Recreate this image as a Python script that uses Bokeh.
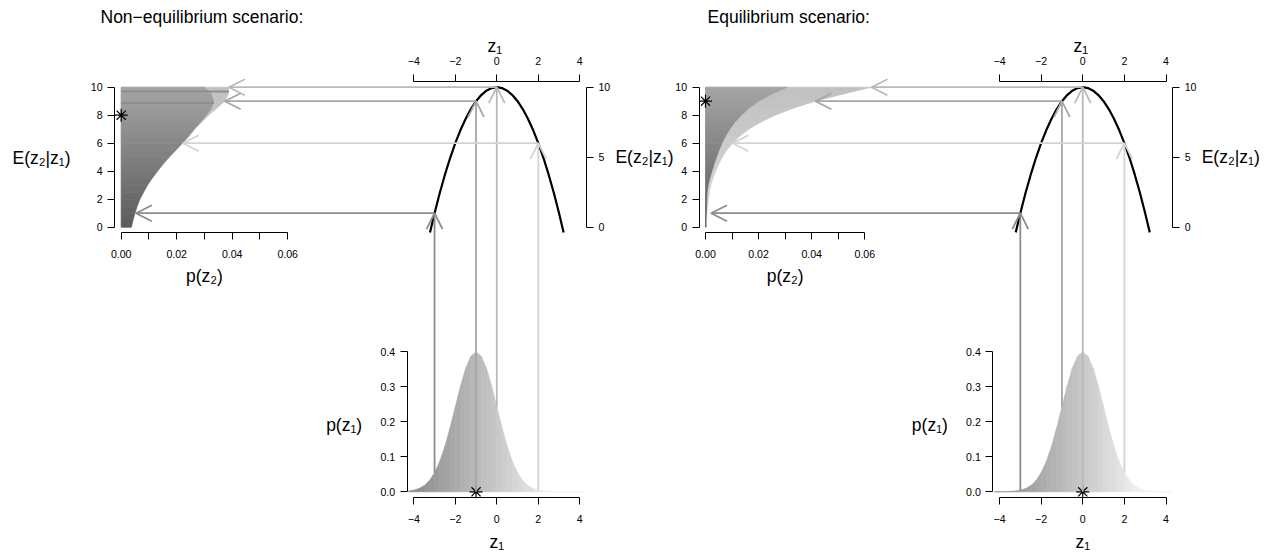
from bokeh.plotting import figure
from bokeh.models import (Range1d, LinearAxis, FixedTicker, CustomJSTickFormatter,
                          Arrow, OpenHead, Label)
from bokeh.embed import file_html
from bokeh.resources import INLINE

# ---------------- data ----------------
arrow_z1 = [-3.0, -1.0, 0.0, 2.0]
arrow_E = [1.0, 9.0, 10.0, 6.0]
arrow_colors = ["#8c8c8c", "#a6a6a6", "#b9b9b9", "#d3d3d3"]

curve_z1 = [-3.22, -3.0, -2.75, -2.5, -2.25, -2.0, -1.75, -1.5, -1.25, -1.0, -0.75, -0.5, -0.25, 0.0,
            0.25, 0.5, 0.75, 1.0, 1.25, 1.5, 1.75, 2.0, 2.25, 2.5, 2.75, 3.0, 3.22]
curve_E = [-0.37, 1.0, 2.44, 3.75, 4.94, 6.0, 6.94, 7.75, 8.44, 9.0, 9.44, 9.75, 9.94, 10.0,
           9.94, 9.75, 9.44, 9.0, 8.44, 7.75, 6.94, 6.0, 4.94, 3.75, 2.44, 1.0, -0.37]

dens_z1 = [-4.25, -4.0, -3.75, -3.5, -3.25, -3.0, -2.75, -2.5, -2.25, -2.0, -1.75, -1.5, -1.25,
           -1.0, -0.75, -0.5, -0.25, 0.0, 0.25, 0.5, 0.75, 1.0, 1.25, 1.5, 1.75, 2.0, 2.25, 2.5,
           2.75, 3.0, 3.25, 3.5, 3.75, 4.0, 4.25]
neq_pz1 = [0.0020, 0.0044, 0.0091, 0.0175, 0.0317, 0.0540, 0.0863, 0.1295, 0.1826, 0.2420,
           0.3011, 0.3521, 0.3867, 0.3989, 0.3867, 0.3521, 0.3011, 0.2420, 0.1826, 0.1295,
           0.0863, 0.0540, 0.0317, 0.0175, 0.0091, 0.0044, 0.0020, 0.0009, 0.0004, 0.0001,
           0.0, 0.0, 0.0, 0.0, 0.0]
eq_pz1 = [0.0, 0.0001, 0.0004, 0.0009, 0.0020, 0.0044, 0.0091, 0.0175, 0.0317, 0.0540,
          0.0863, 0.1295, 0.1826, 0.2420, 0.3011, 0.3521, 0.3867, 0.3989, 0.3867, 0.3521,
          0.3011, 0.2420, 0.1826, 0.1295, 0.0863, 0.0540, 0.0317, 0.0175, 0.0091, 0.0044,
          0.0020, 0.0009, 0.0004, 0.0001, 0.0]

E_levels = [0, 0.5, 1, 1.5, 2, 2.5, 3, 3.5, 4, 4.5, 5, 5.5, 6, 6.5, 7, 7.5, 8, 8.5, 9, 9.5, 10]
neq_pz2_dark = [0.0036, 0.0042, 0.0049, 0.0057, 0.0067, 0.0080, 0.0094, 0.0111, 0.0130, 0.0150,
                0.0172, 0.0196, 0.0220, 0.0242, 0.0262, 0.0285, 0.0307, 0.0325, 0.0333, 0.0325,
                0.0300]
neq_pz2_light = [0.0038, 0.0044, 0.0051, 0.0059, 0.0069, 0.0082, 0.0096, 0.0113, 0.0132, 0.0152,
                 0.0174, 0.0198, 0.0222, 0.0245, 0.0266, 0.0290, 0.0315, 0.0345, 0.0373, 0.0386,
                 0.0388]
eq_pz2_dark = [0.0002, 0.0002, 0.0003, 0.0004, 0.0005, 0.0006, 0.0010, 0.0016, 0.0024, 0.0032,
               0.0041, 0.0051, 0.0062, 0.0075, 0.0091, 0.0110, 0.0135, 0.0163, 0.0200, 0.0248,
               0.0308]
eq_pz2_light = [0.0003, 0.0004, 0.0005, 0.0008, 0.0011, 0.0015, 0.0020, 0.0028, 0.0038, 0.0050,
                0.0063, 0.0080, 0.0102, 0.0128, 0.0163, 0.0208, 0.0262, 0.0330, 0.0414, 0.0515,
                0.0625]

neq_arrow_pz1 = [0.054, 0.0, 0.242, 0.0044]
eq_arrow_pz1 = [0.0044, 0.242, 0.0, 0.054]
neq_arrow_tip = [0.0053, 0.0373, 0.0388, 0.0222]
eq_arrow_tip = [0.0021, 0.0414, 0.0625, 0.0102]

neq_mean_z1, neq_mean_E = -1.0, 8.0
eq_mean_z1, eq_mean_E = 0.0, 9.0

neq_band_E = [9.7, 8.88]
neq_band_p = [0.0388, 0.0334]

E_ticks = [0, 2, 4, 6, 8, 10]
E_ticks_right = [0, 5, 10]
p2_ticks = [0.0, 0.01, 0.02, 0.03, 0.04, 0.05, 0.06]
z1_ticks = [-4, -2, 0, 2, 4]
p1_ticks = [0.0, 0.1, 0.2, 0.3, 0.4]

# ---------------- layout (picture pixels) ----------------
W, H = 1260, 552
OX, OY = 0, 0
Y_E = (0.0, 226.7, 10.0, 86.7)
Y_P1 = (0.0, 491.3, 0.4, 351.0)
HALVES = {
    "neq": dict(p2=(0.0, 120.7, 0.06, 287.2), z1=(-4.0, 413.3, 4.0, 579.3)),
    "eq": dict(p2=(0.0, 705.0, 0.06, 864.3), z1=(-4.0, 999.0, 4.0, 1165.5)),
}
FONT = "Liberation Sans"


def to_px(v, a):
    v0, P0, v1, P1 = a
    return P0 + (v - v0) * (P1 - P0) / (v1 - v0)


def to_val(P, a):
    v0, P0, v1, P1 = a
    return v0 + (P - P0) * (v1 - v0) / (P1 - P0)


def xr(a):
    return Range1d(start=to_val(OX, a), end=to_val(OX + W, a))


def yr(a):
    return Range1d(start=to_val(OY + H, a), end=to_val(OY, a))


def grey(g):
    g = int(round(max(0, min(255, g))))
    return "#%02x%02x%02x" % (g, g, g)


p = figure(width=W, height=H, output_backend="svg", toolbar_location=None,
           x_axis_type=None, y_axis_type=None,
           x_range=Range1d(0, 1), y_range=Range1d(0, 1), min_border=0)
p.outline_line_color = None
p.background_fill_color = "white"
p.border_fill_color = "white"
p.extra_y_ranges = {"E": yr(Y_E), "p1": yr(Y_P1)}
p.extra_x_ranges = {
    "p2_neq": xr(HALVES["neq"]["p2"]), "z1_neq": xr(HALVES["neq"]["z1"]),
    "p2_eq": xr(HALVES["eq"]["p2"]), "z1_eq": xr(HALVES["eq"]["z1"]),
}

FMT_INT = "return tick.toFixed(0);"
FMT_P2 = "var k = Math.round(tick*100); return (k % 2 == 0) ? tick.toFixed(2) : '';"
FMT_Z = "return tick < 0 ? '\u2212' + Math.abs(tick).toFixed(0) : tick.toFixed(0);"
FMT_P1 = "return tick.toFixed(1);"


def add_axis(side, xname, yname, loc, bounds, ticks, code, standoff):
    ax = LinearAxis(x_range_name=xname, y_range_name=yname, fixed_location=loc, bounds=bounds,
                    ticker=FixedTicker(ticks=ticks, minor_ticks=[]),
                    formatter=CustomJSTickFormatter(code=code))
    ax.axis_line_color = "black"
    ax.axis_line_width = 1
    ax.major_tick_line_color = "black"
    ax.major_tick_line_width = 1
    ax.major_tick_in = 0
    ax.major_tick_out = 7
    ax.minor_tick_in = 0
    ax.minor_tick_out = 0
    ax.major_label_standoff = standoff
    ax.major_label_text_font = FONT
    ax.major_label_text_font_size = "10.6px"
    ax.major_label_text_color = "black"
    p.add_layout(ax, side)


def add_label(text, px, py, xname, xa, align="center"):
    p.add_layout(Label(x=to_val(px, xa), y=to_val(py, Y_E), x_range_name=xname, y_range_name="E",
                       text=text, text_align=align, text_baseline="middle", text_font=FONT,
                       text_font_size="17.5px", text_color="black"))


def hstrips(E, pv, colfn, xname):
    xs, ys, cs = [], [], []
    for i in range(len(E) - 1):
        xs.append([0.0, pv[i], pv[i + 1], 0.0])
        ys.append([E[i], E[i], E[i + 1], E[i + 1]])
        cs.append(colfn((E[i] + E[i + 1]) / 2))
    p.patches(xs=xs, ys=ys, fill_color=cs, line_color=cs, line_width=0.7,
              x_range_name=xname, y_range_name="E")


def vstrips(z, d, colfn, xname):
    xs, ys, cs = [], [], []
    for i in range(len(z) - 1):
        xs.append([z[i], z[i], z[i + 1], z[i + 1]])
        ys.append([0.0, d[i], d[i + 1], 0.0])
        cs.append(colfn((z[i] + z[i + 1]) / 2))
    p.patches(xs=xs, ys=ys, fill_color=cs, line_color=cs, line_width=0.7,
              x_range_name=xname, y_range_name="p1")


dark_col = lambda e: grey(90 + 75 * e / 10)
light_col = lambda e: grey(218 - 26 * e / 10)
c_col = lambda z: grey(min(242, max(118, 200 + 15 * z)))

scen = {
    "neq": dict(pz1=neq_pz1, dark=neq_pz2_dark, light=neq_pz2_light, a_pz1=neq_arrow_pz1,
                tip=neq_arrow_tip, mz=neq_mean_z1, mE=neq_mean_E,
                title="Non\u2212equilibrium scenario:", title_x=100),
    "eq": dict(pz1=eq_pz1, dark=eq_pz2_dark, light=eq_pz2_light, a_pz1=eq_arrow_pz1,
               tip=eq_arrow_tip, mz=eq_mean_z1, mE=eq_mean_E,
               title="Equilibrium scenario:", title_x=707),
}

for key, s in scen.items():
    P2 = HALVES[key]["p2"]
    Z1 = HALVES[key]["z1"]
    p2n, z1n = "p2_" + key, "z1_" + key
    p2_lo = to_val(to_px(0.0, P2) - 0.04 * (to_px(0.06, P2) - to_px(0.0, P2)), P2)

    # p(z2) panel
    hstrips(E_levels, s["light"], light_col, p2n)
    hstrips(E_levels, s["dark"], dark_col, p2n)
    if key == "neq":
        p.segment(x0=[0.0] * len(neq_band_E), y0=neq_band_E, x1=neq_band_p, y1=neq_band_E,
                  line_color="#8e8e8e", line_width=2, x_range_name=p2n, y_range_name="E")
    p.scatter(x=[0.0], y=[s["mE"]], marker="asterisk", size=13, line_color="black",
              line_width=1.2, x_range_name=p2n, y_range_name="E")
    add_axis("left", p2n, "E", p2_lo, (0, 10), E_ticks, FMT_INT, 5)
    add_axis("below", p2n, "E", -0.4, (0, 0.06), p2_ticks, FMT_P2, 10)

    # parabola panel
    p.line(x=curve_z1, y=curve_E, line_color="black", line_width=2.2,
           x_range_name=z1n, y_range_name="E")
    add_axis("above", z1n, "E", 10.4, (-4, 4), z1_ticks, FMT_Z, 10)
    add_axis("right", z1n, "E", 4.32, (0, 10), E_ticks_right, FMT_INT, 5)

    # p(z1) panel
    vstrips(dens_z1, s["pz1"], c_col, z1n)
    p.scatter(x=[s["mz"]], y=[0.0], marker="asterisk", size=13, line_color="black",
              line_width=1.2, x_range_name=z1n, y_range_name="p1")
    add_axis("left", z1n, "p1", -4.32, (0, 0.4), p1_ticks, FMT_P1, 5)
    add_axis("below", z1n, "p1", -0.016, (-4, 4), z1_ticks, FMT_Z, 11)

    # arrows
    for z, E, c, d, tip in zip(arrow_z1, arrow_E, arrow_colors, s["a_pz1"], s["tip"]):
        y0 = to_val(to_px(d, Y_P1), Y_E)
        p.add_layout(Arrow(x_start=z, y_start=y0, x_end=z, y_end=E,
                           x_range_name=z1n, y_range_name="E",
                           line_color=c, line_width=1.8,
                           end=OpenHead(size=16, line_color=c, line_width=1.8)))
        x0 = to_val(to_px(z, Z1), P2)
        p.add_layout(Arrow(x_start=x0, y_start=E, x_end=tip, y_end=E,
                           x_range_name=p2n, y_range_name="E",
                           line_color=c, line_width=1.8,
                           end=OpenHead(size=16, line_color=c, line_width=1.8)))

    # texts
    add_label(s["title"], s["title_x"], 16.7, p2n, P2, align="left")
    add_label("p(z\u2082)", to_px(0.03, P2), 275, p2n, P2)
    add_label("z\u2081", to_px(0.0, Z1) - 2, 45, z1n, Z1)
    add_label("E(z\u2082|z\u2081)", to_px(4.32, Z1) + 29, 156, z1n, Z1, align="left")
    add_label("p(z\u2081)", to_px(-4.32, Z1) - 63, 424, z1n, Z1)
    add_label("z\u2081", to_px(0.0, Z1), 541, z1n, Z1)
    if key == "neq":
        add_label("E(z\u2082|z\u2081)", 41, 157, p2n, P2)

open("out.html", "w").write(file_html(p, INLINE))
